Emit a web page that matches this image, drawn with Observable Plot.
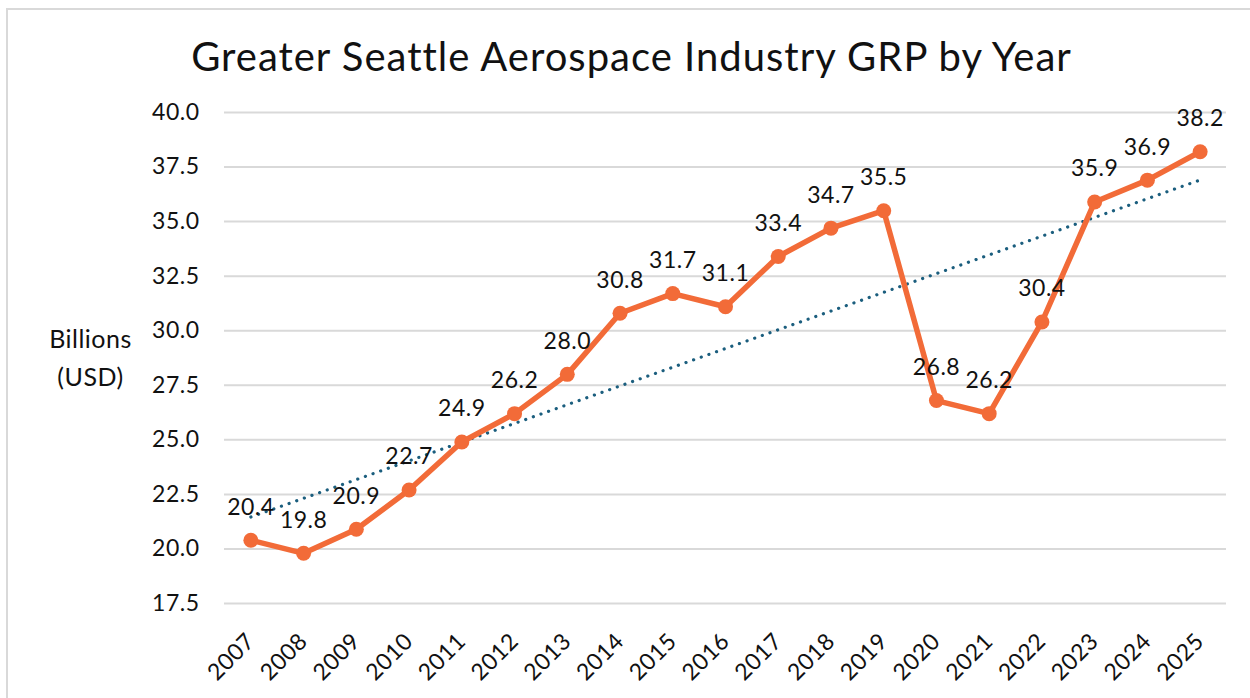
<!DOCTYPE html>
<html><head><meta charset="utf-8">
<script src="https://cdn.jsdelivr.net/npm/d3@7"></script>
<script src="https://cdn.jsdelivr.net/npm/@observablehq/plot@0.6"></script>
<style>
html,body{margin:0;padding:0;background:#fff;overflow:hidden}
#chart{position:relative;width:1250px;height:698px}
#border{position:absolute;left:6px;top:8px;width:1270px;height:730px;border:2px solid #d9d9d9;box-sizing:border-box;pointer-events:none}
#chart svg{position:absolute;left:0;top:0}
#chart svg text{letter-spacing:0.5px}
#chart svg g.title text{letter-spacing:1px}
</style></head><body><div id="chart"><div id="border"></div></div>
<script>
const years = [2007,2008,2009,2010,2011,2012,2013,2014,2015,2016,2017,2018,2019,2020,2021,2022,2023,2024,2025];
const grp = [20.4,19.8,20.9,22.7,24.9,26.2,28.0,30.8,31.7,31.1,33.4,34.7,35.5,26.8,26.2,30.4,35.9,36.9,38.2];
const yTicks = [17.5,20,22.5,25,27.5,30,32.5,35,37.5,40];
const titleText = "Greater Seattle Aerospace Industry GRP by Year";
const yLabelLines = ["Billions","(USD)"];

const data = years.map((year, i) => ({year, grp: grp[i]}));
const font = "Lato, sans-serif";
const orange = "#F26B38";
const teal = "#1B5E7E";

const plot = Plot.plot({
  width: 1250, height: 698,
  marginLeft: 224, marginRight: 24, marginTop: 112, marginBottom: 95,
  style: {fontFamily: font, color: "#111", background: "transparent"},
  x: {type: "linear", domain: [2006.5, 2025.5], label: null},
  y: {domain: [17.5, 40], label: null},
  marks: [
    Plot.gridY(yTicks, {stroke: "#d9d9d9", strokeOpacity: 1, strokeWidth: 2}),
    Plot.axisY(yTicks, {tickSize: 0, tickPadding: 25, tickFormat: d => d.toFixed(1), fontSize: 23, label: null}),
    Plot.axisX(years, {tickSize: 0, tickPadding: 34, tickRotate: -45, tickFormat: d => String(d), fontSize: 23, label: null}),
    Plot.linearRegressionY(data, {x: "year", y: "grp", ci: 0, stroke: teal, strokeWidth: 3.2, strokeDasharray: "0.1 8", strokeLinecap: "round"}),
    Plot.line(data, {x: "year", y: "grp", stroke: orange, strokeWidth: 5.5, strokeLinejoin: "round"}),
    Plot.dot(data, {x: "year", y: "grp", r: 7.5, fill: orange}),
    Plot.text(data, {x: "year", y: "grp", text: d => d.grp.toFixed(1), dy: -33, fontSize: 23, fill: "#111"}),
    Plot.text([titleText], {frameAnchor: "top", dx: -94, dy: -70, fontSize: 40, fill: "#111", className: "title"}),
    Plot.text([yLabelLines[0]], {frameAnchor: "left", dx: -134, dy: -18, fontSize: 25, textAnchor: "middle", fill: "#111"}),
    Plot.text([yLabelLines[1]], {frameAnchor: "left", dx: -134, dy: 20, fontSize: 25, textAnchor: "middle", fill: "#111"})
  ]
});
document.getElementById("chart").prepend(plot);
</script></body></html>
